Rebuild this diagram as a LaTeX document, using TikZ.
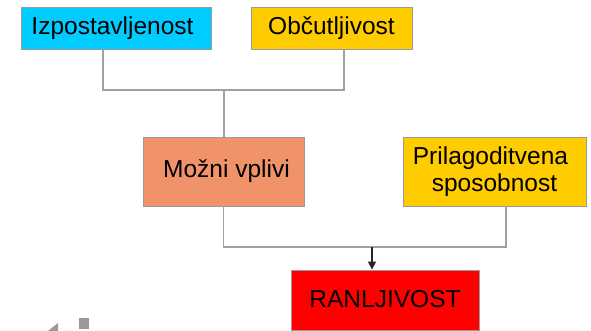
\documentclass[tikz,border=0pt]{standalone}
\usepackage{fontspec}
\setmainfont{Liberation Sans}
\usetikzlibrary{arrows.meta}
\definecolor{cyanbox}{HTML}{00CCFF}
\definecolor{goldbox}{HTML}{FFCC00}
\definecolor{salmonbox}{HTML}{F0926A}
\definecolor{redbox}{HTML}{FF0000}
\definecolor{edgegray}{HTML}{9A9A9A}
\definecolor{linegray}{HTML}{A0A0A0}
\tikzset{
  box/.style={draw=edgegray, line width=0.8pt, inner sep=0pt, align=center,
    font=\fontsize{24.5}{27}\selectfont},
  conn/.style={draw=linegray, line width=1.2pt},
  arr/.style={draw=black!85, line width=1.2pt, -{Triangle[length=8pt,width=8pt]}},
  artifact/.style={fill=black!40, draw=none}
}
\begin{document}
\begin{tikzpicture}[x=1pt,y=-1pt]
\path[use as bounding box] (0,0) rectangle (591,331);
\node[box, fill=cyanbox, minimum width=190pt, minimum height=42pt] (izp) at (116,28) {Izpostavljenost\hspace*{7pt}};
\node[box, fill=goldbox, minimum width=161pt, minimum height=42pt] (obc) at (331.5,28) {Občutljivost};
\node[box, fill=salmonbox, minimum width=161pt, minimum height=69pt] (moz) at (223.5,171.5) {\hspace*{6pt}Možni vplivi};
\node[box, fill=goldbox, minimum width=183pt, minimum height=69pt] (pri) at (494.5,171.5) {Prilagoditvena\hspace*{8pt}\\sposobnost};
\node[box, fill=redbox, minimum width=188pt, minimum height=60pt] (ran) at (385,300) {\raisebox{3pt}{RANLJIVOST}};
\coordinate (j1) at (224,90);
\coordinate (j2) at (372,247);
\draw[conn] ([xshift=-13pt]izp.south) |- (j1) -| ([xshift=12.5pt]obc.south);
\draw[conn] (j1) -- (j1 |- moz.north);
\draw[conn] (moz.south) |- (j2) -| ([xshift=11.5pt]pri.south);
\draw[arr] (j2) -- (j2 |- ran.north);
\fill[artifact] (48,331) -- (58,323) -- (58,331) -- cycle;
\fill[artifact] (79,318) rectangle (89,329);
\end{tikzpicture}
\end{document}
